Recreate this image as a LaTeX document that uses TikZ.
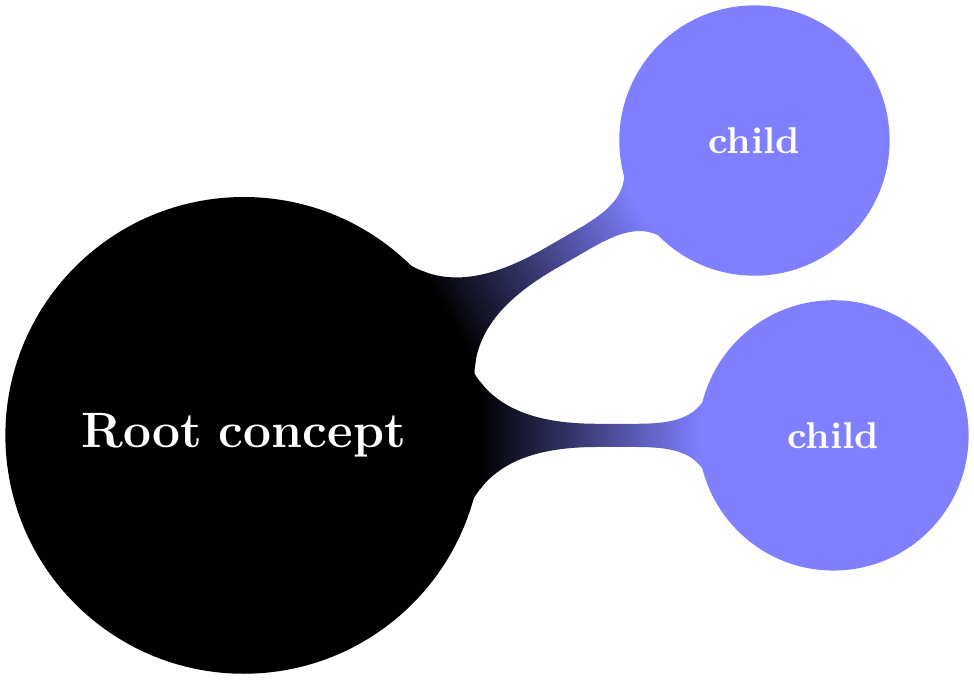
\documentclass[tikz,border=0pt]{standalone}
\usetikzlibrary{mindmap}
\tikzset{childconcept/.style={concept color=blue!50}}

\begin{document}
\begin{tikzpicture}[mindmap, concept color=black, text=white]
  \node (root) [concept] {\textbf{Root concept}}
    child[grow=30, childconcept] {node (childa) [concept] {\textbf{child}}}
    child[grow=0, childconcept] {node (childb) [concept] {\textbf{child}}};
  % small margin round the picture
  \coordinate (sw) at ([shift={(-1.3pt,-1.3pt)}]current bounding box.south west);
  \coordinate (ne) at ([shift={(1.3pt,1.3pt)}]current bounding box.north east);
  \useasboundingbox (sw) rectangle (ne);
\end{tikzpicture}
\end{document}
